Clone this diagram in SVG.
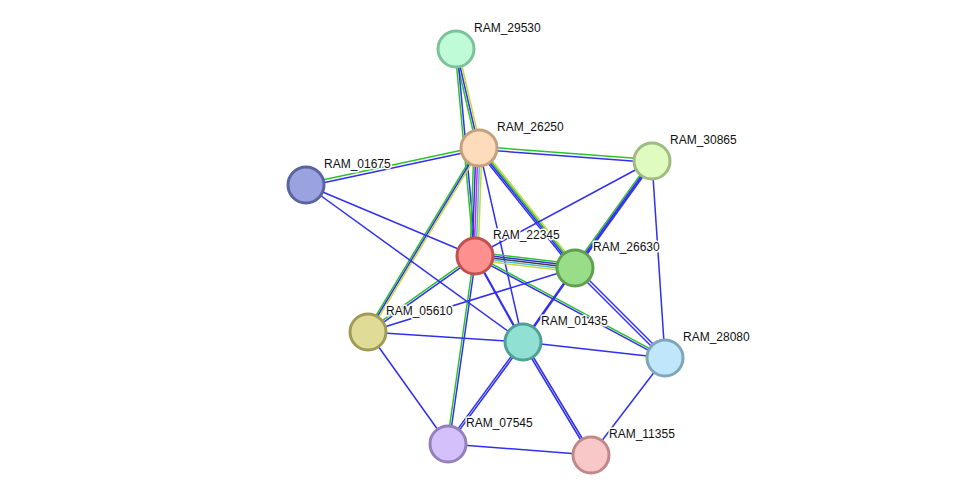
<svg xmlns="http://www.w3.org/2000/svg" width="975" height="501" viewBox="0 0 975 501">
<style>
line{stroke-width:1.5;fill:none}
.g{stroke:#2ec12e}.b{stroke:#3030ee}.y{stroke:#c8d83a}.m{stroke:#d62ad6}.c{stroke:#48c0e0}.k{stroke:#404040}
.n{stroke-width:3}
text{font-family:"Liberation Sans",Arial,sans-serif;font-size:12px;fill:#111;paint-order:stroke;stroke:#fff;stroke-width:3px;stroke-linejoin:round}
</style>
<rect width="975" height="501" fill="#fff"/>
<g id="edges">
<line class="g" x1="454" y1="49" x2="477" y2="148"/>
<line class="b" x1="456" y1="49" x2="479" y2="148"/>
<line class="y" x1="458" y1="49" x2="481" y2="148"/>
<line class="g" x1="455" y1="49" x2="474" y2="256"/>
<line class="b" x1="457" y1="49" x2="476" y2="256"/>
<line class="g" x1="479" y1="146.5" x2="306" y2="183.5"/>
<line class="b" x1="479" y1="149.5" x2="306" y2="186.5"/>
<line class="g" x1="479" y1="146.5" x2="652" y2="159.5"/>
<line class="b" x1="479" y1="149.5" x2="652" y2="162.5"/>
<line class="g" x1="474" y1="148" x2="470" y2="256"/>
<line class="b" x1="476" y1="148" x2="472" y2="256"/>
<line class="m" x1="478" y1="148" x2="474" y2="256"/>
<line class="c" x1="480" y1="148" x2="476" y2="256"/>
<line class="y" x1="482" y1="148" x2="478" y2="256"/>
<line class="y" x1="480.9" y1="146.5" x2="576.9" y2="266.5"/>
<line class="g" x1="479.6" y1="147.5" x2="575.6" y2="267.5"/>
<line class="b" x1="478.4" y1="148.5" x2="574.4" y2="268.5"/>
<line class="b" x1="477.1" y1="149.5" x2="573.1" y2="269.5"/>
<line class="g" x1="477.6" y1="147.2" x2="366.6" y2="331.2"/>
<line class="b" x1="479" y1="148" x2="368" y2="332"/>
<line class="y" x1="480.4" y1="148.8" x2="369.4" y2="332.8"/>
<line class="b" x1="479" y1="148" x2="523" y2="342"/>
<line class="g" x1="475" y1="252" x2="575" y2="264"/>
<line class="b" x1="475" y1="254" x2="575" y2="266"/>
<line class="k" x1="475" y1="256" x2="575" y2="268"/>
<line class="c" x1="475" y1="258" x2="575" y2="270"/>
<line class="y" x1="475" y1="260" x2="575" y2="272"/>
<line class="g" x1="474.4" y1="255.2" x2="367.4" y2="331.2"/>
<line class="b" x1="475.6" y1="256.8" x2="368.6" y2="332.8"/>
<line class="b" x1="475" y1="256" x2="523" y2="342" style="stroke-width:2.2"/>
<line class="g" x1="475.5" y1="255.1" x2="665.5" y2="357.1"/>
<line class="b" x1="474.5" y1="256.9" x2="664.5" y2="358.9"/>
<line class="b" x1="475" y1="256" x2="652" y2="161"/>
<line class="b" x1="306" y1="185" x2="475" y2="256"/>
<line class="b" x1="306" y1="185" x2="523" y2="342"/>
<line class="g" x1="474" y1="256" x2="447" y2="444"/>
<line class="b" x1="476" y1="256" x2="449" y2="444"/>
<line class="g" x1="650.8" y1="160.1" x2="573.8" y2="267.1"/>
<line class="b" x1="652" y1="161" x2="575" y2="268"/>
<line class="b" x1="653.2" y1="161.9" x2="576.2" y2="268.9" style="stroke-width:2"/>
<line class="b" x1="652" y1="161" x2="665" y2="358"/>
<line class="b" x1="575" y1="268" x2="368" y2="332"/>
<line class="b" x1="575" y1="268" x2="523" y2="342" style="stroke-width:2.5"/>
<line class="b" x1="576" y1="267" x2="666" y2="357"/>
<line class="b" x1="574" y1="269" x2="664" y2="359"/>
<line class="b" x1="368" y1="332" x2="523" y2="342"/>
<line class="b" x1="368" y1="332" x2="448" y2="444"/>
<line class="b" x1="523" y1="342" x2="665" y2="358"/>
<line class="b" x1="523.8" y1="342.6" x2="448.8" y2="444.6"/>
<line class="b" x1="522.2" y1="341.4" x2="447.2" y2="443.4"/>
<line class="b" x1="522.1" y1="342.5" x2="590.1" y2="455.5"/>
<line class="b" x1="523.9" y1="341.5" x2="591.9" y2="454.5"/>
<line class="b" x1="665" y1="358" x2="591" y2="455"/>
<line class="b" x1="448" y1="444" x2="591" y2="455"/>
</g>
<g id="RAM_29530"><circle class="n" cx="456" cy="49" r="18" fill="#c0fbd8" stroke="#7cc39a"/><text x="474" y="32">RAM_29530</text></g>
<g id="RAM_26250"><circle class="n" cx="479" cy="148" r="18" fill="#fddcbc" stroke="#c4a07e"/><text x="497" y="131">RAM_26250</text></g>
<g id="RAM_30865"><circle class="n" cx="652" cy="161" r="18" fill="#e0fbbf" stroke="#a0bb80"/><text x="670" y="144">RAM_30865</text></g>
<g id="RAM_01675"><circle class="n" cx="306" cy="185" r="18" fill="#9aa3e0" stroke="#5a64a0"/><text x="324" y="168">RAM_01675</text></g>
<g id="RAM_22345"><circle class="n" cx="475" cy="256" r="18" fill="#fe9090" stroke="#c05050"/><text x="493" y="239">RAM_22345</text></g>
<g id="RAM_26630"><circle class="n" cx="575" cy="268" r="18" fill="#99dd88" stroke="#5ea050"/><text x="593" y="251">RAM_26630</text></g>
<g id="RAM_05610"><circle class="n" cx="368" cy="332" r="18" fill="#e0dc98" stroke="#a09c58"/><text x="386" y="315">RAM_05610</text></g>
<g id="RAM_01435"><circle class="n" cx="523" cy="342" r="18" fill="#90e0d4" stroke="#50a094"/><text x="541" y="325">RAM_01435</text></g>
<g id="RAM_28080"><circle class="n" cx="665" cy="358" r="18" fill="#c0e6fb" stroke="#80a6bb"/><text x="683" y="341">RAM_28080</text></g>
<g id="RAM_07545"><circle class="n" cx="448" cy="444" r="18" fill="#d4c0fb" stroke="#9480bb"/><text x="466" y="427">RAM_07545</text></g>
<g id="RAM_11355"><circle class="n" cx="591" cy="455" r="18" fill="#f8c8c8" stroke="#c08888"/><text x="609" y="438">RAM_11355</text></g>
</svg>
